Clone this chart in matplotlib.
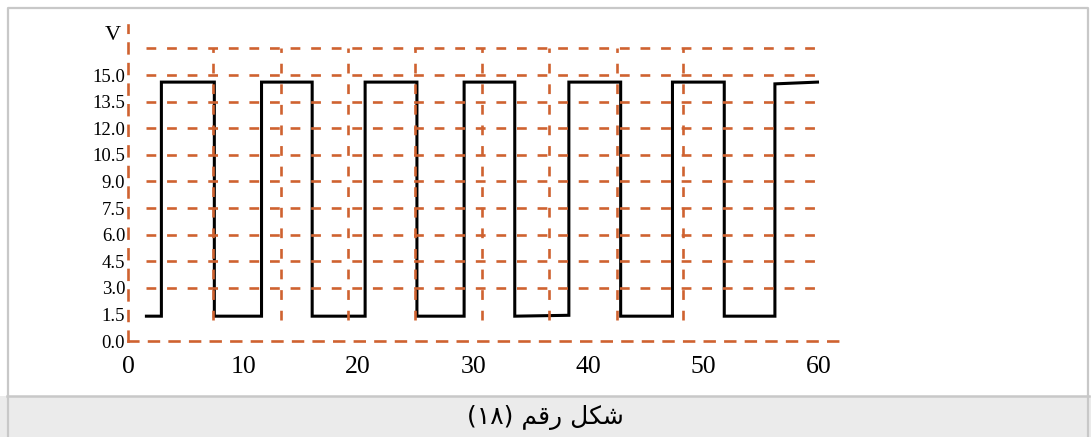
import matplotlib
matplotlib.use("Agg")
import matplotlib.pyplot as plt
from matplotlib.patches import Rectangle
from matplotlib.lines import Line2D

# Square-wave output voltage (time in ms, voltage in V), vertex by vertex
time_ms = [1.6, 2.9, 2.9, 7.5, 7.5, 11.6, 11.6, 16.0, 16.0, 20.6, 20.6, 25.1,
           25.1, 29.2, 29.2, 33.6, 33.6, 38.3, 38.3, 42.8, 42.8, 47.3, 47.3,
           51.8, 51.8, 56.2, 56.2, 59.9]
volts = [1.4, 1.4, 14.6, 14.6, 1.4, 1.4, 14.6, 14.6, 1.4, 1.4, 14.6, 14.6,
         1.4, 1.4, 14.6, 14.6, 1.4, 1.45, 14.6, 14.6, 1.4, 1.4, 14.6, 14.6,
         1.4, 1.4, 14.5, 14.6]

# Dashed reference levels and time markers
grid_levels = [3.0, 4.5, 6.0, 7.5, 9.0, 10.5, 12.0, 13.5, 15.0, 16.5]
marker_times = [7.36, 13.27, 19.11, 24.93, 30.73, 36.58, 42.44, 48.22]

y_ticks = [0.0, 1.5, 3.0, 4.5, 6.0, 7.5, 9.0, 10.5, 12.0, 13.5, 15.0]
x_ticks = [0, 10, 20, 30, 40, 50, 60]
y_unit = "V"
caption = "(\u0661\u0668) \uFEE2\uFED7\uFEAD \uFEDE\uFEDC\uFEB7"  # شكل رقم (١٨)

plt.rcParams["font.family"] = ["Liberation Serif", "DejaVu Sans"]

W, H = 1091, 437
ORANGE = "#CF6230"
DASH = (0, (3.7, 4.1))
LW = 1.9

fig = plt.figure(figsize=(W / 100, H / 100), dpi=100)
fig.patch.set_facecolor("white")

# caption band and frame
fig.add_artist(Rectangle((0, 0), 1, 41 / H, transform=fig.transFigure,
                         facecolor="#ebebeb", edgecolor="none", zorder=0))
fig.add_artist(Line2D([7 / W, 1089 / W], [1 - 396 / H, 1 - 396 / H],
                      transform=fig.transFigure, color="#c8c8c8", lw=1.8))
fig.add_artist(Line2D([8 / W, 8 / W, 1088 / W, 1088 / W],
                      [0, 1 - 8 / H, 1 - 8 / H, 0],
                      transform=fig.transFigure, color="#c8c8c8", lw=1.6))

ax = fig.add_axes([128 / W, (H - 341) / H, 720 / W, 316 / H])
ax.set_facecolor("none")
ax.set_xlim(0, 62.55)
ax.set_ylim(0, 17.82)

ax.plot(time_ms, volts, color="black", lw=2.2, solid_joinstyle="miter",
        zorder=1)
ax.hlines(grid_levels, time_ms[0], time_ms[-1], colors=ORANGE,
          linestyles=[DASH], linewidth=LW, zorder=2)
ax.vlines(marker_times, 1.2, grid_levels[-1], colors=ORANGE,
          linestyles=[DASH], linewidth=LW, zorder=2)

for side in ("top", "right"):
    ax.spines[side].set_visible(False)
for side in ("left", "bottom"):
    ax.spines[side].set_color(ORANGE)
    ax.spines[side].set_linewidth(LW)
    ax.spines[side].set_linestyle(DASH)

ax.set_yticks(y_ticks)
ax.set_yticklabels([f"{v:.1f}" for v in y_ticks])
ax.set_xticks(x_ticks)
ax.set_xticklabels([str(v) for v in x_ticks])
ax.tick_params(axis="y", length=0, pad=2, labelsize=13.5)
ax.tick_params(axis="x", length=0, pad=11, labelsize=18.5)

fig.text(113 / W, 1 - 35 / H, y_unit, ha="center", va="center", fontsize=16)
fig.text(545 / W, 1 - 418 / H, caption, ha="center", va="center",
         fontsize=18, family=["DejaVu Sans"])

fig.savefig("out.png", dpi=100)
